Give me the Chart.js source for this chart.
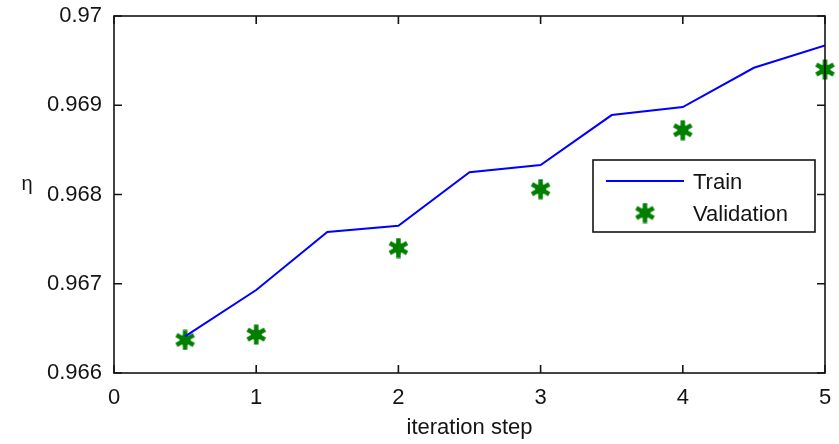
<!DOCTYPE html>
<html>
<head>
<meta charset="utf-8">
<script src="https://cdn.jsdelivr.net/npm/chart.js@4/dist/chart.umd.min.js"></script>
<style>
  html, body { margin: 0; padding: 0; background: #fff; }
  #wrap { width: 839px; height: 444px; }
</style>
</head>
<body>
<div id="wrap"><canvas id="etaChart" width="839" height="444"></canvas></div>
<script>
"use strict";

// values
const trainSteps = [0.5, 1, 1.5, 2, 2.5, 3, 3.5, 4, 4.5, 5];
const trainEta = [0.96641, 0.96693, 0.96758, 0.96765, 0.96825, 0.96833, 0.96889, 0.96898, 0.96942, 0.96967];
const valSteps = [0.5, 1, 2, 3, 4, 5];
const valEta = [0.96637, 0.96643, 0.96740, 0.96806, 0.96872, 0.96940];
const xTicks = [0, 1, 2, 3, 4, 5];
const yTicks = [0.966, 0.967, 0.968, 0.969, 0.97];

const FONT = "'Liberation Sans', Arial, sans-serif";
const INK = '#141414';

// matlab-ish fat asterisk marker
function makeStar(size, color) {
    const c = document.createElement('canvas');
    c.width = size; c.height = size;
    const g = c.getContext('2d');
    const m = size / 2, r = size / 2 - 0.5;
    g.strokeStyle = color; g.fillStyle = color;
    g.lineWidth = 4.5; g.lineCap = 'butt';
    [90, 30, 150].forEach(a => {
        const dx = Math.cos(a * Math.PI / 180) * r, dy = Math.sin(a * Math.PI / 180) * r;
        g.beginPath(); g.moveTo(m - dx, m - dy); g.lineTo(m + dx, m + dy); g.stroke();
    });
    g.beginPath(); g.arc(m, m, 5.5, 0, Math.PI * 2); g.fill();
    return c;
}
const starImg = makeStar(21, '#007f00');

const toPts = (xs, ys) => xs.map((x, i) => ({ x: x, y: ys[i] }));

// box + inward ticks on all four sides, eta label, legend
const framePlugin = {
    id: 'frame',
    afterDraw(chart) {
        const { ctx, chartArea: a, scales } = chart;
        const tl = 8;
        ctx.save();
        ctx.strokeStyle = INK;
        ctx.lineWidth = 1.6;
        ctx.strokeRect(a.left, a.top, a.right - a.left, a.bottom - a.top);
        ctx.beginPath();
        xTicks.forEach(v => {
            const px = scales.x.getPixelForValue(v);
            ctx.moveTo(px, a.bottom); ctx.lineTo(px, a.bottom - tl);
            ctx.moveTo(px, a.top); ctx.lineTo(px, a.top + tl);
        });
        yTicks.forEach(v => {
            const py = scales.y.getPixelForValue(v);
            ctx.moveTo(a.left, py); ctx.lineTo(a.left + tl, py);
            ctx.moveTo(a.right, py); ctx.lineTo(a.right - tl, py);
        });
        ctx.stroke();

        // y label, upright like the original
        ctx.fillStyle = INK;
        ctx.font = '20px ' + FONT;
        ctx.textAlign = 'center';
        ctx.textBaseline = 'middle';
        ctx.fillText('η', 27, a.top + 168);

        // legend
        const lx = a.right - 232, ly = a.top + 144, lw = 222, lh = 72;
        ctx.fillStyle = '#fff';
        ctx.fillRect(lx, ly, lw, lh);
        ctx.lineWidth = 1.6;
        ctx.strokeStyle = INK;
        ctx.strokeRect(lx, ly, lw, lh);
        const ds = chart.data.datasets;
        ctx.strokeStyle = ds[0].borderColor;
        ctx.lineWidth = 2;
        ctx.beginPath(); ctx.moveTo(lx + 13, ly + 21); ctx.lineTo(lx + 91, ly + 21); ctx.stroke();
        ctx.drawImage(starImg, lx + 52 - 10.5, ly + 53 - 10.5);
        ctx.fillStyle = INK;
        ctx.font = '22px ' + FONT;
        ctx.textAlign = 'left';
        ctx.fillText(ds[0].label, lx + 100, ly + 23);
        ctx.fillText(ds[1].label, lx + 100, ly + 55);
        ctx.restore();
    }
};

new Chart(document.getElementById('etaChart'), {
    type: 'scatter',
    data: {
        datasets: [
            {
                label: 'Train',
                data: toPts(trainSteps, trainEta),
                showLine: true,
                borderColor: '#0000ff',
                borderWidth: 2,
                pointRadius: 0,
                tension: 0
            },
            {
                label: 'Validation',
                data: toPts(valSteps, valEta),
                pointStyle: starImg,
                pointRadius: 10,
                clip: false
            }
        ]
    },
    options: {
        responsive: false,
        animation: false,
        layout: { padding: { top: 16, right: 14, left: 0, bottom: 0 } },
        plugins: { legend: { display: false }, tooltip: { enabled: false } },
        scales: {
            x: {
                type: 'linear',
                min: 0, max: 5,
                afterFit(s) { s.height = 71; s.paddingLeft = 0; s.paddingRight = 0; },
                afterBuildTicks(s) { s.ticks = xTicks.map(v => ({ value: v })); },
                grid: { display: false, drawTicks: false },
                border: { display: false },
                ticks: { padding: 12, color: INK, font: { family: FONT, size: 22 } },
                title: {
                    display: true, text: 'iteration step', color: INK,
                    font: { family: FONT, size: 22 }, padding: { top: 0, bottom: 3 }
                }
            },
            y: {
                type: 'linear',
                min: 0.966, max: 0.97,
                afterFit(s) { s.width = 114; s.paddingTop = 0; s.paddingBottom = 0; },
                afterBuildTicks(s) { s.ticks = yTicks.map(v => ({ value: v })); },
                grid: { display: false, drawTicks: false },
                border: { display: false },
                ticks: {
                    padding: 12, color: INK, font: { family: FONT, size: 22 },
                    callback: v => String(Number(v.toFixed(3)))
                }
            }
        }
    },
    plugins: [framePlugin]
});
</script>
</body>
</html>
